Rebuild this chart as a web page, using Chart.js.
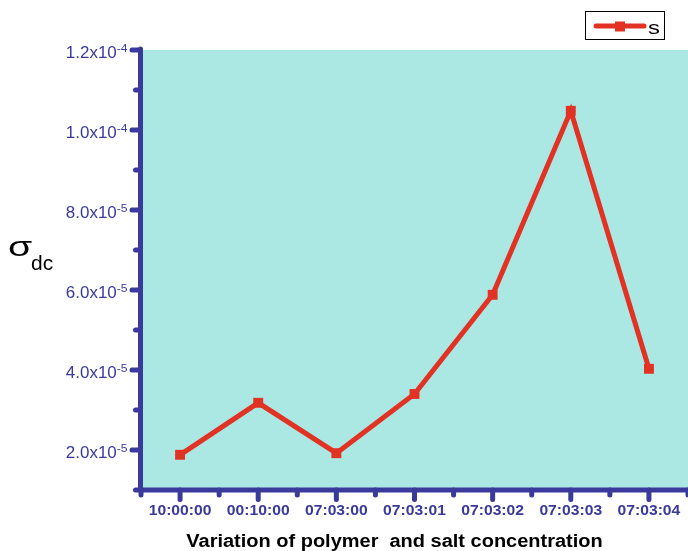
<!DOCTYPE html>
<html>
<head>
<meta charset="utf-8">
<script src="https://cdn.jsdelivr.net/npm/chart.js@4.4.1/dist/chart.umd.min.js"></script>
<style>
  html, body { margin: 0; padding: 0; background: #ffffff; }
  #wrap { width: 688px; height: 551px; }
</style>
</head>
<body>
<div id="wrap"><canvas id="c" width="688" height="551"></canvas></div>
<script>
// Samples along the x axis
const categories = ['10:00:00', '00:10:00', '07:03:00', '07:03:01', '07:03:02', '07:03:03', '07:03:04'];
// DC conductivity of each sample
const sigmaDC = [1.88e-5, 3.18e-5, 1.92e-5, 3.40e-5, 5.88e-5, 1.048e-4, 4.03e-5];
// Labelled (major) y ticks, written as mantissa x 10^exponent
const yMajorValues = [2e-5, 4e-5, 6e-5, 8e-5, 1.0e-4, 1.2e-4];
const yMajorMantissa = ['2.0x10', '4.0x10', '6.0x10', '8.0x10', '1.0x10', '1.2x10'];
const yMajorExponent = ['-5', '-5', '-5', '-5', '-4', '-4'];
// Unlabelled (minor) y ticks
const yMinorValues = [1e-5, 3e-5, 5e-5, 7e-5, 9e-5, 1.1e-4];
const seriesName = 's';
const xTitle = 'Variation of polymer  and salt concentration';

const AXIS = '#3a3a9c';
const PLOT_BG = '#ace8e3';
const RED = '#e13223';
const FAMILY = '"Liberation Sans", Arial, sans-serif';

// Draws text with a horizontal stretch factor; returns the drawn width.
function stretchedText(ctx, str, x, y, font, color, sx, align) {
  ctx.save();
  ctx.font = font;
  ctx.fillStyle = color;
  ctx.textAlign = 'left';
  ctx.textBaseline = 'alphabetic';
  const w = ctx.measureText(str).width * sx;
  const left = align === 'right' ? x - w : (align === 'center' ? x - w / 2 : x);
  ctx.translate(left, y);
  ctx.scale(sx, 1);
  ctx.fillText(str, 0, 0);
  ctx.restore();
  return w;
}

function measure(ctx, str, font, sx) {
  ctx.save();
  ctx.font = font;
  const w = ctx.measureText(str).width * sx;
  ctx.restore();
  return w;
}

const framePlugin = {
  id: 'frame',
  beforeDatasetsDraw(chart) {
    const { ctx, chartArea: a } = chart;
    ctx.save();
    ctx.fillStyle = PLOT_BG;
    ctx.fillRect(a.left, a.top, chart.width - a.left, a.bottom - a.top);
    ctx.restore();
  },
  afterDatasetsDraw(chart) {
    const { ctx, chartArea: a } = chart;
    const xs = chart.scales.x, ys = chart.scales.y;
    const axX = a.left - 0.5, axY = a.bottom;

    ctx.save();
    ctx.strokeStyle = AXIS;
    ctx.lineWidth = 5;
    ctx.lineCap = 'round';

    // axis lines
    ctx.beginPath();
    ctx.moveTo(axX, a.top - 1);
    ctx.lineTo(axX, axY);
    ctx.moveTo(axX, axY);
    ctx.lineTo(chart.width + 4, axY);
    ctx.stroke();

    // y ticks, pointing outward
    ctx.beginPath();
    yMajorValues.forEach(v => {
      const py = ys.getPixelForValue(v);
      ctx.moveTo(axX, py); ctx.lineTo(axX - 8.5, py);
    });
    yMinorValues.forEach(v => {
      const py = ys.getPixelForValue(v);
      ctx.moveTo(axX, py); ctx.lineTo(axX - 5, py);
    });
    // x ticks: major at categories, minor at the boundaries between them
    const step = xs.getPixelForValue(1) - xs.getPixelForValue(0);
    categories.forEach((c, i) => {
      const px = xs.getPixelForValue(i);
      ctx.moveTo(px, axY); ctx.lineTo(px, axY + 9.5);
    });
    for (let k = 0; k <= categories.length; k++) {
      const px = xs.getPixelForValue(0) - step / 2 + k * step;
      ctx.moveTo(px, axY); ctx.lineTo(px, axY + 5);
    }
    ctx.stroke();
    ctx.restore();

    // y tick labels with superscript exponent
    const supFont = '11px ' + FAMILY;
    const mainFont = '16px ' + FAMILY;
    yMajorValues.forEach((v, i) => {
      const py = ys.getPixelForValue(v);
      const right = 127.5;
      const ew = measure(ctx, yMajorExponent[i], supFont, 1.1);
      stretchedText(ctx, yMajorExponent[i], right - ew, py + 1.5, supFont, AXIS, 1.1, 'left');
      stretchedText(ctx, yMajorMantissa[i], right - ew, py + 7.5, mainFont, AXIS, 1.06, 'right');
    });

    // x tick labels
    categories.forEach((c, i) => {
      const px = xs.getPixelForValue(i);
      stretchedText(ctx, c, px, 515, 'bold 14px ' + FAMILY, AXIS, 1.12, 'center');
    });

    // axis titles
    stretchedText(ctx, xTitle, 394.5, 547, 'bold 18px ' + FAMILY, '#000000', 1.11, 'center');
    stretchedText(ctx, '\u03C3', 8, 256, '28px ' + FAMILY, '#000000', 1.4, 'left');
    stretchedText(ctx, 'dc', 31, 270, '20px ' + FAMILY, '#000000', 1.05, 'left');

    // legend
    ctx.save();
    ctx.fillStyle = '#ffffff';
    ctx.fillRect(585.5, 11.5, 79, 28);
    ctx.strokeStyle = '#000000';
    ctx.lineWidth = 1;
    ctx.strokeRect(585.5, 11.5, 79, 28);
    ctx.strokeStyle = RED;
    ctx.lineWidth = 5;
    ctx.lineCap = 'round';
    ctx.beginPath();
    ctx.moveTo(596, 26); ctx.lineTo(644, 26);
    ctx.stroke();
    ctx.fillStyle = RED;
    ctx.fillRect(615, 21.5, 10, 10);
    ctx.restore();
    stretchedText(ctx, seriesName, 648, 33.5, '19px ' + FAMILY, '#000000', 1.25, 'left');
  }
};

new Chart(document.getElementById('c'), {
  type: 'line',
  data: {
    labels: categories,
    datasets: [{
      label: seriesName,
      data: sigmaDC,
      borderColor: RED,
      backgroundColor: RED,
      borderWidth: 5,
      pointStyle: 'rect',
      pointRadius: 7,
      pointBorderWidth: 0,
      pointBackgroundColor: RED,
      tension: 0,
      fill: false
    }]
  },
  options: {
    responsive: false,
    devicePixelRatio: 1,
    animation: false,
    layout: { autoPadding: false, padding: { top: 50, right: 0, left: 0, bottom: 0 } },
    plugins: { legend: { display: false }, tooltip: { enabled: false }, title: { display: false } },
    scales: {
      x: {
        type: 'category',
        offset: true,
        grid: { display: false },
        border: { display: false },
        ticks: { display: false },
        afterFit(s) { s.height = 61; }
      },
      y: {
        type: 'linear',
        min: 1e-5,
        max: 1.2e-4,
        grid: { display: false },
        border: { display: false },
        ticks: { display: false },
        afterFit(s) { s.width = 141; }
      }
    }
  },
  plugins: [framePlugin]
});
</script>
</body>
</html>
